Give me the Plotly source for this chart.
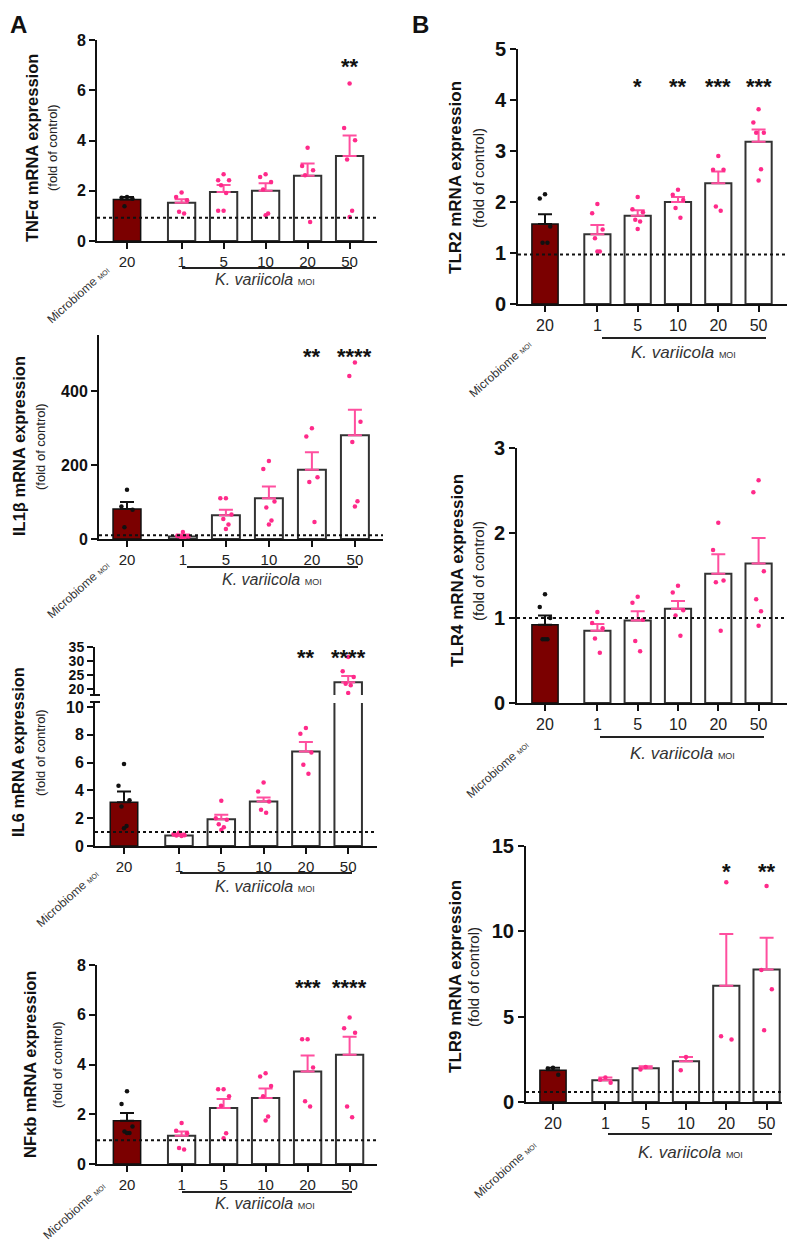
import plotly.graph_objects as go

# ---------------- data ----------------
CATS = ["20", "1", "5", "10", "20", "50"]
XPOS = [0, 1.3, 2.3, 3.3, 4.3, 5.3]

TNF_MEAN = [1.65, 1.52, 1.95, 2.0, 2.6, 3.38]
TNF_SEM = [0.1, 0.14, 0.28, 0.3, 0.48, 0.82]
TNF_PTS = [[1.75, 1.72, 1.68, 1.38], [1.93, 1.75, 1.62, 1.16, 1.09],
           [2.66, 2.42, 2.42, 2.22, 1.91, 1.2, 1.2], [2.66, 2.55, 2.35, 2.05, 1.09, 1.02],
           [3.71, 2.99, 2.82, 2.62, 0.76], [6.27, 4.5, 4.01, 3.24, 1.2, 0.96]]
TNF_BASE = 0.93
TNF_STARS = ["", "", "", "", "", "**"]
TNF_STAR_Y = 7.2

IL1B_MEAN = [81, 7, 64, 110, 187, 280]
IL1B_SEM = [19, 5, 15, 32, 47, 69]
IL1B_PTS = [[133, 88, 79, 32], [19, 8, 7, 6, 6, 5], [110, 110, 66, 54, 39, 27],
            [211, 189, 101, 85, 50, 39], [299, 277, 167, 154, 46], [477, 440, 317, 262, 102, 88]]
IL1B_BASE = 10
IL1B_STARS = ["", "", "", "", "**", "****"]
IL1B_STAR_Y = 509

IL6_MEAN = [3.15, 0.75, 1.92, 3.2, 6.8, 22.4]
IL6_SEM = [0.77, 0.15, 0.32, 0.29, 0.68, 2.2]
IL6_PTS = [[5.9, 4.33, 3.3, 2.84, 1.44, 1.27], [0.95, 0.85, 0.78, 0.75, 0.72],
           [3.25, 2.0, 1.88, 1.56, 1.35, 1.15], [4.57, 3.92, 3.2, 2.6, 2.4],
           [8.49, 8.08, 6.73, 5.84, 5.19], [31.4, 26.3, 24.3, 21.9, 21.3, 18.6]]
IL6_BASE = 1.0
IL6_STARS = ["", "", "", "", "**", "****"]
IL6_STAR_Y = 33.5

NFKB_MEAN = [1.74, 1.14, 2.25, 2.65, 3.72, 4.39]
NFKB_SEM = [0.31, 0.17, 0.36, 0.39, 0.64, 0.73]
NFKB_PTS = [[2.92, 2.41, 1.51, 1.31, 1.25, 1.25], [1.65, 1.34, 1.24, 0.64, 0.58],
            [3.01, 3.01, 2.72, 2.34, 1.24, 1.04], [3.65, 3.52, 3.14, 2.72, 1.91, 1.75],
            [5.02, 5.02, 3.88, 2.52, 2.31], [5.89, 5.46, 5.28, 2.31, 1.88]]
NFKB_BASE = 0.95
NFKB_STARS = ["", "", "", "", "***", "****"]
NFKB_STAR_Y = 7.33

TLR2_MEAN = [1.57, 1.37, 1.73, 2.0, 2.37, 3.18]
TLR2_SEM = [0.19, 0.18, 0.11, 0.1, 0.23, 0.24]
TLR2_PTS = [[2.15, 2.07, 1.52, 1.2, 1.2], [1.96, 1.78, 1.46, 1.29, 1.03, 1.03],
            [2.1, 1.86, 1.8, 1.65, 1.62, 1.47], [2.24, 2.14, 2.04, 1.88, 1.69],
            [2.9, 2.63, 2.63, 1.91, 1.83], [3.82, 3.56, 3.36, 3.36, 2.64, 2.42]]
TLR2_BASE = 0.97
TLR2_STARS = ["", "", "*", "**", "***", "***"]
TLR2_STAR_Y = 4.39

TLR4_MEAN = [0.92, 0.85, 0.97, 1.11, 1.52, 1.64]
TLR4_SEM = [0.11, 0.08, 0.11, 0.09, 0.23, 0.3]
TLR4_PTS = [[1.28, 1.13, 1.0, 0.75, 0.75, 0.75], [1.07, 0.94, 0.88, 0.76, 0.59],
            [1.25, 1.18, 0.98, 0.73, 0.61], [1.38, 1.3, 1.09, 1.03, 0.79],
            [2.12, 1.8, 1.44, 1.42, 0.85], [2.62, 2.48, 1.55, 1.22, 1.08, 0.91]]
TLR4_BASE = 1.0
TLR4_STARS = ["", "", "", "", "", ""]
TLR4_STAR_Y = 2.8

TLR9_MEAN = [1.86, 1.27, 1.98, 2.39, 6.81, 7.76]
TLR9_SEM = [0.15, 0.16, 0.11, 0.25, 3.03, 1.86]
TLR9_PTS = [[2.01, 1.96, 1.6], [1.43, 1.31, 1.13], [2.05, 1.9], [2.64, 1.86],
            [12.87, 3.85, 3.66], [12.65, 7.73, 6.61, 4.2]]
TLR9_BASE = 0.59
TLR9_STARS = ["", "", "", "", "*", "**"]
TLR9_STAR_Y = 13.83

# ---------------- style / layout ----------------
W, H = 797, 1243
OFF = 8  # page body margin
FONT = "Liberation Sans, Arial, sans-serif"
MICRO_FILL = "#7b0000"
PINK_DOT = "#ff2a8a"
PINK_ERR = "#ff4f9f"
OFFS = [0, -0.13, 0.13, -0.06, 0.06, 0.0, -0.13]


def fx(x):
    return (x - OFF) / W


def fy(y):
    return 1 - (y - OFF) / H


fig = go.Figure()
shapes, annos = [], []
lay = {}


def axis_keys(i):
    s = "" if i == 1 else str(i)
    return "x" + s, "y" + s, "xaxis" + s, "yaxis" + s


def txt(x, y, text, size, angle=0, color="#111", bold=False):
    f = dict(family=FONT, size=size, color=color)
    if bold:
        f["weight"] = "bold"
    annos.append(dict(x=fx(x), y=fy(y), xref="paper", yref="paper", text=text, showarrow=False,
                      textangle=angle, xanchor="center", yanchor="middle", font=f))


def add_series(i, mean, sem, pts):
    xr, yr, _, _ = axis_keys(i)
    fig.add_trace(go.Bar(x=XPOS[:1], y=mean[:1], width=0.65, xaxis=xr, yaxis=yr,
                         marker=dict(color=MICRO_FILL, line=dict(color="#111", width=1.5)),
                         error_y=dict(type="data", array=sem[:1], arrayminus=[0], symmetric=False,
                                      color="#111", thickness=2, width=7)))
    fig.add_trace(go.Bar(x=XPOS[1:], y=mean[1:], width=0.65, xaxis=xr, yaxis=yr,
                         marker=dict(color="white", line=dict(color="#333", width=2)),
                         error_y=dict(type="data", array=sem[1:], arrayminus=[0] * 5, symmetric=False,
                                      color=PINK_ERR, thickness=2, width=7)))
    for k, grp in enumerate(pts):
        xs = [XPOS[k] + OFFS[j % len(OFFS)] for j in range(len(grp))]
        fig.add_trace(go.Scatter(x=xs, y=grp, mode="markers", xaxis=xr, yaxis=yr,
                                 marker=dict(size=4.5, color="#111" if k == 0 else PINK_DOT)))


def add_axes(i, g, ymin, ymax, yticks, right, show_x=True, tf=None):
    xr, yr, xk, yk = axis_keys(i)
    xmin = (g["left"] - g["x0"]) / g["sp"]
    xmax = (g["right"] - g["x0"]) / g["sp"]
    if tf is None:
        tf = 20 if right else 16
    xf = 16 if right else 15
    lay[xk] = dict(domain=[fx(g["left"]), fx(g["right"])], range=[xmin, xmax], anchor=yr,
                   tickvals=XPOS, ticktext=CATS, ticks="outside", ticklen=6, tickwidth=2,
                   tickcolor="#111", showline=True, linewidth=2, linecolor="#111",
                   showgrid=False, zeroline=False, visible=show_x, automargin=False,
                   tickfont=dict(family=FONT, size=xf, color="#222"), fixedrange=True)
    lay[yk] = dict(domain=[fy(g["ybot"]), fy(g["ytop"])], range=[ymin, ymax], anchor=xr,
                   tickvals=yticks, ticks="outside", ticklen=6, tickwidth=2, tickcolor="#111",
                   showline=True, linewidth=2, linecolor="#111", showgrid=False, zeroline=False,
                   automargin=False,
                   tickfont=dict(family=FONT, size=tf, color="#111", weight="bold"), fixedrange=True)


def add_deco(i, g, base, stars, star_y, right, star_axis=None):
    xr, yr, _, _ = axis_keys(i)
    shapes.append(dict(type="line", xref=xr + " domain", yref=yr, x0=0, x1=1, y0=base, y1=base,
                       line=dict(color="#111", width=2, dash="dot")))
    sx, sy = (xr, yr) if star_axis is None else axis_keys(star_axis)[:2]
    for k, s in enumerate(stars):
        if s:
            annos.append(dict(x=XPOS[k], y=star_y, xref=sx, yref=sy, text=s, showarrow=False,
                              xanchor="center", yanchor="middle", yshift=-6,
                              font=dict(family=FONT, size=22, color="#111", weight="bold")))
    shapes.append(dict(type="line", xref="paper", yref="paper", x0=fx(g["ul"][0]), x1=fx(g["ul"][1]),
                       y0=fy(g["ul"][2]), y1=fy(g["ul"][2]), line=dict(color="#222", width=2)))
    txt(g["ktext"][0], g["ktext"][1],
        "<i>K. variicola</i> <span style='font-size:9px'>MOI</span>", 17 if right else 16, color="#333")
    txt(g["micro"][0], g["micro"][1], "Microbiome <span style='font-size:7px'>MOI</span>", 12,
        angle=-42, color="#333")
    mf, sf = (17, 15) if right else (16.5, 13)
    txt(g["tmain"], g["tyc"], g["title"], mf, angle=-90, bold=True)
    txt(g["tsub"], g["tyc"], "(fold of control)", sf, angle=-90, color="#222")


G_TNF = dict(left=97, right=377, x0=127, sp=42, ytop=40, ybot=241, ul=(182, 352, 268),
             ktext=(265, 279), micro=(78, 295), tmain=32, tsub=53, tyc=148,
             title="TNFα mRNA expression")
G_IL1B = dict(left=99, right=383, x0=127, sp=43, ytop=335, ybot=539, ul=(187, 358, 567),
              ktext=(272, 579), micro=(78, 590), tmain=19, tsub=40, tyc=446,
              title="IL1β mRNA expression")
G_IL6 = dict(left=95, right=377, x0=124, sp=42.3, ytop=703, ybot=846, ul=(180, 352, 873),
             ktext=(265, 886), micro=(68, 898), tmain=18, tsub=40, tyc=752,
             title="IL6 mRNA expression")
G_IL6U = dict(G_IL6, ytop=647, ybot=695)
G_NFKB = dict(left=97, right=377, x0=127, sp=42, ytop=965, ybot=1164, ul=(182, 352, 1192),
              ktext=(265, 1203), micro=(74, 1211), tmain=30, tsub=57, tyc=1065,
              title="NFκb mRNA expression")
G_TLR2 = dict(left=518, right=787, x0=545, sp=40.3, ytop=49, ybot=304, ul=(602, 766, 338),
              ktext=(683, 352), micro=(500, 369), tmain=455, tsub=478, tyc=178,
              title="TLR2 mRNA expression")
G_TLR4 = dict(left=517, right=787, x0=545, sp=40.3, ytop=448, ybot=703, ul=(600, 764, 737),
              ktext=(682, 753), micro=(498, 769), tmain=457, tsub=478, tyc=571,
              title="TLR4 mRNA expression")
G_TLR9 = dict(left=526, right=782, x0=553, sp=40.3, ytop=846, ybot=1102, ul=(608, 772, 1134),
              ktext=(690, 1152), micro=(505, 1170), tmain=455, tsub=473, tyc=977,
              title="TLR9 mRNA expression")

add_series(1, TNF_MEAN, TNF_SEM, TNF_PTS)
add_axes(1, G_TNF, 0, 8, [0, 2, 4, 6, 8], False)
add_deco(1, G_TNF, TNF_BASE, TNF_STARS, TNF_STAR_Y, False)

add_series(2, IL1B_MEAN, IL1B_SEM, IL1B_PTS)
add_axes(2, G_IL1B, 0, 551, [0, 200, 400], False)
add_deco(2, G_IL1B, IL1B_BASE, IL1B_STARS, IL1B_STAR_Y, False)

add_series(3, IL6_MEAN, IL6_SEM, IL6_PTS)
add_axes(3, G_IL6, 0, 10.29, [0, 2, 4, 6, 8, 10], False)
add_deco(3, G_IL6, IL6_BASE, IL6_STARS, IL6_STAR_Y, False, star_axis=8)
add_series(8, IL6_MEAN, IL6_SEM, IL6_PTS)
add_axes(8, G_IL6U, 17.86, 35, [20, 25, 30, 35], False, show_x=False, tf=14)
for yb in (695, 702):
    shapes.append(dict(type="line", xref="paper", yref="paper", x0=fx(90), x1=fx(100),
                       y0=fy(yb), y1=fy(yb), line=dict(color="#111", width=2)))

add_series(4, NFKB_MEAN, NFKB_SEM, NFKB_PTS)
add_axes(4, G_NFKB, 0, 8, [0, 2, 4, 6, 8], False)
add_deco(4, G_NFKB, NFKB_BASE, NFKB_STARS, NFKB_STAR_Y, False)

add_series(5, TLR2_MEAN, TLR2_SEM, TLR2_PTS)
add_axes(5, G_TLR2, 0, 5, [0, 1, 2, 3, 4, 5], True)
add_deco(5, G_TLR2, TLR2_BASE, TLR2_STARS, TLR2_STAR_Y, True)

add_series(6, TLR4_MEAN, TLR4_SEM, TLR4_PTS)
add_axes(6, G_TLR4, 0, 3, [0, 1, 2, 3], True)
add_deco(6, G_TLR4, TLR4_BASE, TLR4_STARS, TLR4_STAR_Y, True)

add_series(7, TLR9_MEAN, TLR9_SEM, TLR9_PTS)
add_axes(7, G_TLR9, 0, 15, [0, 5, 10, 15], True)
add_deco(7, G_TLR9, TLR9_BASE, TLR9_STARS, TLR9_STAR_Y, True)

txt(18, 24, "A", 24, bold=True)
txt(420, 24, "B", 24, bold=True)

fig.update_layout(width=W, height=H, margin=dict(l=0, r=0, t=0, b=0, autoexpand=False),
                  showlegend=False, barmode="overlay", paper_bgcolor="white",
                  plot_bgcolor="rgba(0,0,0,0)", shapes=shapes, annotations=annos, **lay)
fig.write_html("out.html")
